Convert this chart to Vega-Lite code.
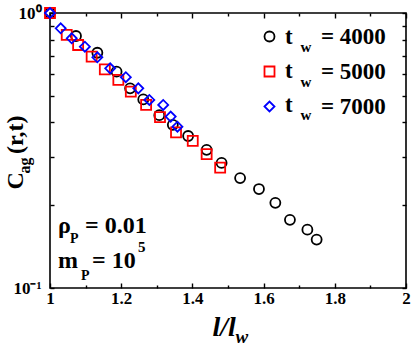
{
  "$schema": "https://vega.github.io/schema/vega-lite/v6.json",
  "width": 356,
  "height": 275,
  "autosize": {"type": "none"},
  "padding": {"left": 50, "top": 13, "right": 9, "bottom": 60},
  "background": "white",
  "config": {
    "view": {"stroke": "black", "strokeWidth": 1.6},
    "font": "Liberation Serif",
    "axis": {"domain": false, "grid": false, "tickColor": "black", "tickWidth": 1.4, "labelFont": "Liberation Serif", "labelFontWeight": "bold", "labelFontSize": 17, "labelColor": "black", "titleFont": "Liberation Serif", "titleFontWeight": "bold", "titleColor": "black", "labelFlush": false, "labelOverlap": false},
    "text": {"font": "Liberation Serif", "fontWeight": "bold", "color": "black"}
  },
  "datasets": {
    "points": [
      {"x": 1.0, "y": 1.0, "tw": "4000"},
      {"x": 1.073, "y": 0.825, "tw": "4000"},
      {"x": 1.133, "y": 0.717, "tw": "4000"},
      {"x": 1.187, "y": 0.612, "tw": "4000"},
      {"x": 1.225, "y": 0.532, "tw": "4000"},
      {"x": 1.262, "y": 0.485, "tw": "4000"},
      {"x": 1.307, "y": 0.425, "tw": "4000"},
      {"x": 1.345, "y": 0.392, "tw": "4000"},
      {"x": 1.388, "y": 0.357, "tw": "4000"},
      {"x": 1.44, "y": 0.318, "tw": "4000"},
      {"x": 1.482, "y": 0.285, "tw": "4000"},
      {"x": 1.534, "y": 0.251, "tw": "4000"},
      {"x": 1.587, "y": 0.229, "tw": "4000"},
      {"x": 1.633, "y": 0.204, "tw": "4000"},
      {"x": 1.674, "y": 0.177, "tw": "4000"},
      {"x": 1.723, "y": 0.163, "tw": "4000"},
      {"x": 1.749, "y": 0.15, "tw": "4000"},
      {"x": 1.0, "y": 1.0, "tw": "5000"},
      {"x": 1.047, "y": 0.832, "tw": "5000"},
      {"x": 1.079, "y": 0.765, "tw": "5000"},
      {"x": 1.117, "y": 0.694, "tw": "5000"},
      {"x": 1.154, "y": 0.624, "tw": "5000"},
      {"x": 1.192, "y": 0.571, "tw": "5000"},
      {"x": 1.227, "y": 0.518, "tw": "5000"},
      {"x": 1.27, "y": 0.463, "tw": "5000"},
      {"x": 1.309, "y": 0.418, "tw": "5000"},
      {"x": 1.354, "y": 0.368, "tw": "5000"},
      {"x": 1.401, "y": 0.343, "tw": "5000"},
      {"x": 1.44, "y": 0.307, "tw": "5000"},
      {"x": 1.478, "y": 0.274, "tw": "5000"},
      {"x": 1.0, "y": 1.0, "tw": "7000"},
      {"x": 1.03, "y": 0.88, "tw": "7000"},
      {"x": 1.061, "y": 0.809, "tw": "7000"},
      {"x": 1.098, "y": 0.754, "tw": "7000"},
      {"x": 1.133, "y": 0.69, "tw": "7000"},
      {"x": 1.169, "y": 0.629, "tw": "7000"},
      {"x": 1.213, "y": 0.584, "tw": "7000"},
      {"x": 1.248, "y": 0.532, "tw": "7000"},
      {"x": 1.279, "y": 0.483, "tw": "7000"},
      {"x": 1.318, "y": 0.463, "tw": "7000"},
      {"x": 1.339, "y": 0.42, "tw": "7000"},
      {"x": 1.358, "y": 0.386, "tw": "7000"}
    ]
  },
  "layer": [
    {
      "data": {"name": "points"},
      "mark": {"type": "point", "filled": false, "strokeWidth": 1.8, "opacity": 1, "size": 100},
      "encoding": {
        "x": {"field": "x", "type": "quantitative", "scale": {"domain": [1, 2], "nice": false, "zero": false},
          "axis": {"orient": "bottom", "values": [1, 1.1, 1.2, 1.3, 1.4, 1.5, 1.6, 1.7, 1.8, 1.9, 2],
            "labelExpr": "round(datum.value*10)%2==0 ? format(datum.value,'~g') : ''",
            "tickSize": {"condition": {"test": "round(datum.value*10)%2==1", "value": -3}, "value": -5},
            "labelPadding": 7,
            "title": "l/l", "titleFontSize": 28, "titleFontStyle": "italic", "titleX": 162, "titleY": 47, "titleAlign": "left", "titleBaseline": "alphabetic"}},
        "y": {"field": "y", "type": "quantitative", "scale": {"type": "log", "domain": [0.1, 1], "nice": false},
          "axis": {"orient": "left", "values": [0.1, 0.2, 0.3, 0.4, 0.5, 0.6, 0.7, 0.8, 0.9, 1],
            "labelExpr": "datum.value>0.95 ? '10⁰' : (datum.value<0.105 ? '10⁻¹' : '')",
            "tickSize": -4, "labelPadding": 13,
            "title": "C\u00a0\u00a0\u00a0(r,t)", "titleFontSize": 24, "titleAngle": 270, "titleX": -28, "titleY": 139, "titleAlign": "center", "titleBaseline": "alphabetic"}},
        "color": {"field": "tw", "type": "nominal", "scale": {"domain": ["4000", "5000", "7000"], "range": ["#000000", "#ff0000", "#0000ff"]},
          "legend": {"title": null, "orient": "none", "legendX": 208, "legendY": 12, "padding": 0,
            "labelExpr": "'= ' + datum.label",
            "labelFontSize": 23, "labelFont": "Liberation Serif", "labelFontWeight": "bold", "labelColor": "black",
            "symbolSize": 100, "symbolStrokeWidth": 1.8, "rowPadding": 11, "labelOffset": 40}},
        "shape": {"field": "tw", "type": "nominal", "scale": {"domain": ["4000", "5000", "7000"], "range": ["circle", "square", "diamond"]}}
      }
    },
    {
      "data": {"values": [{}]},
      "mark": {"type": "text", "text": "ρ", "fontSize": 24, "align": "left", "baseline": "alphabetic"},
      "encoding": {
        "x": {"datum": 1.0225, "type": "quantitative",
          "axis": {"orient": "top", "values": [1, 1.1, 1.2, 1.3, 1.4, 1.5, 1.6, 1.7, 1.8, 1.9, 2], "labels": false,
            "tickSize": {"condition": {"test": "round(datum.value*10)%2==1", "value": -3}, "value": -5}, "title": null}},
        "y": {"datum": 0.1585, "type": "quantitative",
          "axis": {"orient": "right", "values": [0.1, 0.2, 0.3, 0.4, 0.5, 0.6, 0.7, 0.8, 0.9, 1], "labels": false, "tickSize": -4, "title": null}}
      }
    },
    {
      "data": {"values": [{}]},
      "mark": {"type": "text", "text": "P", "fontSize": 14, "align": "left", "baseline": "alphabetic"},
      "encoding": {
        "x": {"datum": 1.0562, "type": "quantitative",
          "axis": {"orient": "bottom", "ticks": false, "labels": false, "title": "w", "titleFontSize": 19, "titleFontStyle": "italic", "titleX": 185, "titleY": 54, "titleAlign": "left", "titleBaseline": "alphabetic"}},
        "y": {"datum": 0.1458, "type": "quantitative",
          "axis": {"orient": "left", "ticks": false, "labels": false, "title": "ag", "titleFontSize": 16, "titleAngle": 270, "titleX": -21, "titleY": 152, "titleAlign": "center", "titleBaseline": "alphabetic"}}
      }
    },
    {
      "data": {"values": [{}]},
      "mark": {"type": "text", "text": "= 0.01", "fontSize": 24, "align": "left", "baseline": "alphabetic"},
      "encoding": {"x": {"datum": 1.0983, "type": "quantitative", "axis": null}, "y": {"datum": 0.1585, "type": "quantitative", "axis": null}}
    },
    {
      "data": {"values": [{}]},
      "mark": {"type": "text", "text": "m", "fontSize": 24, "align": "left", "baseline": "alphabetic"},
      "encoding": {"x": {"datum": 1.0225, "type": "quantitative", "axis": null}, "y": {"datum": 0.1182, "type": "quantitative", "axis": null}}
    },
    {
      "data": {"values": [{}]},
      "mark": {"type": "text", "text": "P", "fontSize": 14, "align": "left", "baseline": "alphabetic"},
      "encoding": {"x": {"datum": 1.0871, "type": "quantitative", "axis": null}, "y": {"datum": 0.1069, "type": "quantitative", "axis": null}}
    },
    {
      "data": {"values": [{}]},
      "mark": {"type": "text", "text": "= 10", "fontSize": 24, "align": "left", "baseline": "alphabetic"},
      "encoding": {"x": {"datum": 1.118, "type": "quantitative", "axis": null}, "y": {"datum": 0.1182, "type": "quantitative", "axis": null}}
    },
    {
      "data": {"values": [{}]},
      "mark": {"type": "text", "text": "5", "fontSize": 15, "align": "left", "baseline": "alphabetic"},
      "encoding": {"x": {"datum": 1.2472, "type": "quantitative", "axis": null}, "y": {"datum": 0.1351, "type": "quantitative", "axis": null}}
    },
    {
      "data": {"values": [{}]},
      "mark": {"type": "text", "text": "t", "fontSize": 23, "align": "left", "baseline": "middle"},
      "encoding": {"x": {"datum": 1.6601, "type": "quantitative", "axis": null}, "y": {"datum": 0.8213, "type": "quantitative", "axis": null}}
    },
    {
      "data": {"values": [{}]},
      "mark": {"type": "text", "text": "t", "fontSize": 23, "align": "left", "baseline": "middle"},
      "encoding": {"x": {"datum": 1.6601, "type": "quantitative", "axis": null}, "y": {"datum": 0.6178, "type": "quantitative", "axis": null}}
    },
    {
      "data": {"values": [{}]},
      "mark": {"type": "text", "text": "t", "fontSize": 23, "align": "left", "baseline": "middle"},
      "encoding": {"x": {"datum": 1.6601, "type": "quantitative", "axis": null}, "y": {"datum": 0.4648, "type": "quantitative", "axis": null}}
    },
    {
      "data": {"values": [{}]},
      "mark": {"type": "text", "text": "w", "fontSize": 15, "align": "center", "baseline": "middle"},
      "encoding": {"x": {"datum": 1.719, "type": "quantitative", "axis": null}, "y": {"datum": 0.752, "type": "quantitative", "axis": null}}
    },
    {
      "data": {"values": [{}]},
      "mark": {"type": "text", "text": "w", "fontSize": 15, "align": "center", "baseline": "middle"},
      "encoding": {"x": {"datum": 1.719, "type": "quantitative", "axis": null}, "y": {"datum": 0.5634, "type": "quantitative", "axis": null}}
    },
    {
      "data": {"values": [{}]},
      "mark": {"type": "text", "text": "w", "fontSize": 15, "align": "center", "baseline": "middle"},
      "encoding": {"x": {"datum": 1.719, "type": "quantitative", "axis": null}, "y": {"datum": 0.4256, "type": "quantitative", "axis": null}}
    }
  ],
  "resolve": {"axis": {"x": "independent", "y": "independent"}}
}
